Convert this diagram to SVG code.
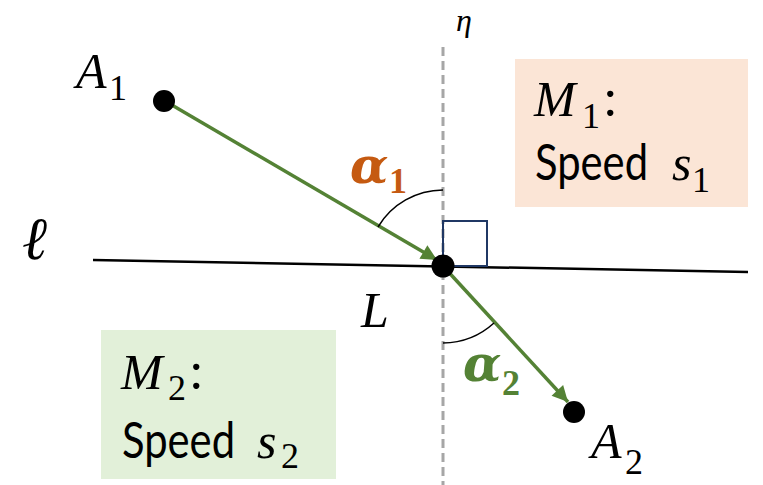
<svg xmlns="http://www.w3.org/2000/svg" width="763" height="485" viewBox="0 0 763 485">
  <style>
    .math { font-family: "Liberation Serif", "DejaVu Serif", serif; font-style: italic; font-size: 50px; fill: #000; }
    .sub { font-family: "Liberation Serif", "DejaVu Serif", serif; font-style: normal; font-size: 36px; }
    .greek { font-family: "DejaVu Serif", "Liberation Serif", serif; font-style: italic; font-weight: bold; font-size: 50px; }
    .plain { font-family: Lato, "Liberation Sans", sans-serif; font-size: 50px; fill: #000; }
    .dot { fill: #000; }
    .arrow { stroke: #548235; stroke-width: 3.5; fill: none; }
    .arc { stroke: #000; stroke-width: 1.5; fill: none; }
  </style>
  <defs>
    <marker id="head" viewBox="0 0 10 10" refX="10" refY="5" markerWidth="5.5" markerHeight="4.5" orient="auto" markerUnits="strokeWidth">
      <path d="M0 0 L10 5 L0 10 z" fill="#548235"/>
    </marker>
  </defs>

  <rect id="region-m1" x="515" y="59" width="233" height="148" fill="#fbe5d6"/>
  <rect id="region-m2" x="101" y="330" width="235" height="149" fill="#e2f0d9"/>

  <g id="axes">
    <line x1="443" y1="47" x2="443" y2="485" stroke="#a6a6a6" stroke-width="3" stroke-dasharray="9 5"/>
    <line x1="93" y1="260" x2="748" y2="272" stroke="#000" stroke-width="2.5"/>
    <rect x="443" y="221" width="44" height="45" fill="none" stroke="#203864" stroke-width="2"/>
    <text class="math" x="456" y="31" style="font-size:32px">η</text>
    <text x="22" y="259" style="font-family:'DejaVu Serif',serif;font-style:italic;font-size:60px;fill:#000">ℓ</text>
  </g>

  <g id="connectors">
    <line class="arrow" x1="165" y1="101" x2="437" y2="260" marker-end="url(#head)"/>
    <line class="arrow" x1="443" y1="266" x2="568" y2="402" marker-end="url(#head)"/>
    <path class="arc" d="M443 190 A76 76 0 0 0 378 227"/>
    <path class="arc" d="M443 343 A77 77 0 0 0 494 323"/>
  </g>

  <g id="node-a1">
    <circle class="dot" cx="164" cy="101" r="11"/>
    <text class="math" x="76" y="88">A<tspan class="sub" x="109" y="100">1</tspan></text>
  </g>

  <g id="node-l">
    <circle class="dot" cx="443" cy="266" r="11.5"/>
    <text class="math" x="361" y="327">L</text>
  </g>

  <g id="node-a2">
    <circle class="dot" cx="574" cy="412" r="11"/>
    <text class="math" x="591" y="458">A<tspan class="sub" x="625" y="474">2</tspan></text>
  </g>

  <g id="label-alpha1">
    <text class="greek" x="350" y="183" style="fill:#c55a11">α<tspan class="sub" x="389" y="193" style="font-weight:bold">1</tspan></text>
  </g>

  <g id="label-alpha2">
    <text class="greek" x="463" y="381" style="fill:#548235">α<tspan class="sub" x="502" y="395" style="font-weight:bold">2</tspan></text>
  </g>

  <g id="label-m1">
    <text class="math" x="534" y="116">M<tspan class="sub" x="582" y="128">1</tspan><tspan class="plain" style="font-style:normal" x="604" y="116">:</tspan></text>
    <text class="plain" x="535" y="180" textLength="113" lengthAdjust="spacingAndGlyphs">Speed</text>
    <text class="math" x="672" y="180">s<tspan class="sub" x="692" y="192">1</tspan></text>
  </g>

  <g id="label-m2">
    <text class="math" x="121" y="389">M<tspan class="sub" x="168" y="400">2</tspan><tspan class="plain" style="font-style:normal" x="190" y="389">:</tspan></text>
    <text class="plain" x="122" y="458" textLength="113" lengthAdjust="spacingAndGlyphs">Speed</text>
    <text class="math" x="257" y="458">s<tspan class="sub" x="281" y="468">2</tspan></text>
  </g>
</svg>
